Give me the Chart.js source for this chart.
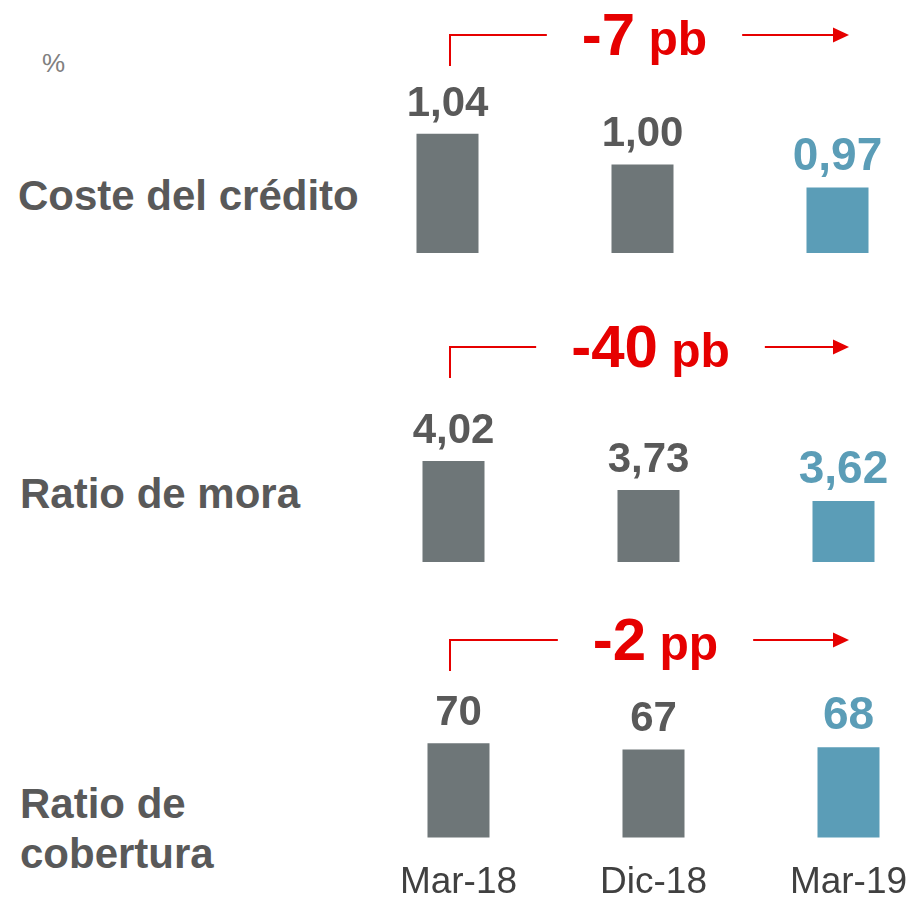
<!DOCTYPE html>
<html>
<head>
<meta charset="utf-8">
<script src="https://cdn.jsdelivr.net/npm/chart.js@4"></script>
<style>
    html, body { margin: 0; padding: 0; background: #fff; }
    #page { position: relative; width: 913px; height: 899px; overflow: hidden; font-family: 'Liberation Sans', Arial, sans-serif; }
    .row-label { position: absolute; left: 20px; font-weight: bold; font-size: 42px; line-height: 42px; color: #595959; white-space: nowrap; }
    canvas { position: absolute; }
</style>
</head>
<body>
<div id="page">
    <div style="position:absolute; left:42px; top:50px; font-size:26px; line-height:26px; color:#808080;">%</div>
    <div class="row-label" style="left:18px; top:175px;">Coste del crédito</div>
    <div class="row-label" style="top:473px;">Ratio de mora</div>
    <div class="row-label" style="top:779px; line-height:50px;">Ratio de<br>cobertura</div>

    <canvas id="chart_coste" width="585" height="258" style="left:350px; top:-5px;"></canvas>
    <canvas id="chart_mora" width="585" height="255" style="left:356px; top:307px;"></canvas>
    <canvas id="chart_cobertura" width="585" height="328" style="left:361px; top:600px;"></canvas>
</div>

<script>
// datos
const categories = ['Mar-18', 'Dic-18', 'Mar-19'];
const costeCredito = [1.04, 1.00, 0.97];
const ratioMora = [4.02, 3.73, 3.62];
const ratioCobertura = [70, 67, 68];
const variacionNum = ['-7', '-40', '-2'];
const variacionUnidad = ['pb', 'pb', 'pp'];

const FONT = "'Liberation Sans', Arial, sans-serif";
const GRIS = '#6E7678';
const AZUL = '#5B9DB7';
const ROJO = '#E60000';
const TEXTO = '#595959';

Chart.defaults.font.family = FONT;

// etiquetas de valor + flecha roja de variación
const etiquetas = {
    id: 'etiquetas',
    afterDatasetsDraw(chart, args, opts) {
        const ctx = chart.ctx;
        const meta = chart.getDatasetMeta(0);
        const values = chart.data.datasets[0].data;
        ctx.save();

        // valores encima de cada barra
        ctx.textAlign = 'center';
        ctx.textBaseline = 'alphabetic';
        meta.data.forEach((bar, i) => {
            const last = i === meta.data.length - 1;
            ctx.fillStyle = last ? AZUL : TEXTO;
            ctx.font = 'bold ' + (last ? 46 : 42) + 'px ' + FONT;
            const txt = values[i].toFixed(opts.decimals).replace('.', ',');
            ctx.fillText(txt, bar.x, bar.y - 18);
        });

        // variación
        const lineY = chart.chartArea.top + 40;
        const baseY = lineY + 20;
        const numFont = 'bold 60px ' + FONT;
        const unitFont = 'bold 48px ' + FONT;
        ctx.font = numFont;
        const wNum = ctx.measureText(opts.num).width;
        ctx.font = unitFont;
        const wSp = ctx.measureText(' ').width;
        const wUnit = ctx.measureText(opts.unit).width;
        const total = wNum + wSp + wUnit;
        const cx = meta.data[1].x + 2;
        const startX = cx - total / 2;

        ctx.fillStyle = ROJO;
        ctx.textAlign = 'left';
        ctx.font = numFont;
        ctx.fillText(opts.num, startX, baseY);
        ctx.font = unitFont;
        ctx.fillText(opts.unit, startX + wNum + wSp, baseY);

        const bx = 450 - opts.left;   // esquina izquierda
        const ax = 849 - opts.left;   // punta de flecha
        ctx.strokeStyle = ROJO;
        ctx.lineWidth = 2;
        ctx.beginPath();
        ctx.moveTo(bx, lineY + 31);
        ctx.lineTo(bx, lineY);
        ctx.lineTo(startX - 35, lineY);
        ctx.moveTo(startX + total + 35, lineY);
        ctx.lineTo(ax - 14, lineY);
        ctx.stroke();
        ctx.beginPath();
        ctx.moveTo(ax - 16, lineY - 7.5);
        ctx.lineTo(ax, lineY);
        ctx.lineTo(ax - 16, lineY + 7.5);
        ctx.closePath();
        ctx.fill();

        ctx.restore();
    }
};

const rows = [
    { id: 'chart_coste', data: costeCredito, decimals: 2, min: 0.885, max: 1.220, left: 350, axis: false, k: 0 },
    { id: 'chart_mora', data: ratioMora, decimals: 2, min: 3.01, max: 5.56, left: 356, axis: false, k: 1 },
    { id: 'chart_cobertura', data: ratioCobertura, decimals: 0, min: 23, max: 141.5, left: 361, axis: true, k: 2 }
];

rows.forEach(row => {
    const ctx = document.getElementById(row.id).getContext('2d');
    new Chart(ctx, {
        type: 'bar',
        data: {
            labels: categories,
            datasets: [{
                data: row.data,
                backgroundColor: [GRIS, GRIS, AZUL],
                borderWidth: 0,
                barPercentage: 0.318,
                categoryPercentage: 1
            }]
        },
        options: {
            responsive: false,
            animation: false,
            layout: { padding: 0 },
            plugins: {
                legend: { display: false },
                tooltip: { enabled: false },
                etiquetas: {
                    decimals: row.decimals,
                    num: variacionNum[row.k],
                    unit: variacionUnidad[row.k],
                    left: row.left
                }
            },
            scales: {
                x: {
                    display: row.axis,
                    grid: { display: false, drawTicks: false },
                    border: { display: false },
                    ticks: { color: '#404040', font: { size: 37 }, padding: 23 }
                },
                y: { display: false, min: row.min, max: row.max }
            }
        },
        plugins: [etiquetas]
    });
});
</script>
</body>
</html>
